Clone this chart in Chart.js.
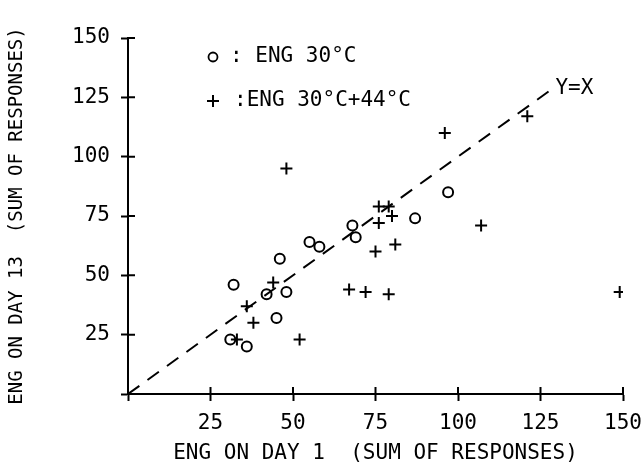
<!DOCTYPE html>
<html>
<head>
<meta charset="utf-8">
<script src="https://cdn.jsdelivr.net/npm/chart.js@4.4.0/dist/chart.umd.min.js"></script>
<style>
  html, body { margin: 0; padding: 0; background: #fff; }
</style>
</head>
<body>
<canvas id="eng-chart" width="644" height="468"></canvas>
<script>
// ENG 30°C (circles)
const circleX = [32, 31, 36, 42, 46, 48, 45, 55, 58, 68, 69, 87, 97]
const circleY = [46, 23, 20, 42, 57, 43, 32, 64, 62, 71, 66, 74, 85]

// ENG 30°C+44°C (crosses)
const plusX = [44, 36, 38, 33, 52, 67, 72, 48, 96, 121, 76, 79, 76, 80, 107, 75, 81, 79, 149]
const plusY = [47, 37, 30, 23, 23, 44, 43, 95, 110, 117, 79, 79, 72, 75, 71, 60, 63, 42, 43]

// Y=X reference line
const diagX = [0, 128]
const diagY = [0, 128]

const axisTicks = [0, 25, 50, 75, 100, 125, 150]
const legendLabels = [': ENG 30°C', ':ENG 30°C+44°C']
const xTitle = 'ENG ON DAY 1  (SUM OF RESPONSES)'
const yTitle = 'ENG ON DAY 13  (SUM OF RESPONSES)'

const FONT = "'DejaVu Sans Mono', monospace"
const ctx = document.getElementById('eng-chart')

function toPoints(xs, ys) {
  return xs.map((x, i) => ({ x: x, y: ys[i] }))
}

// inner half of the crossing tick marks, legend and the Y=X label
const extras = {
  id: 'extras',
  afterDraw(chart) {
    const c = chart.ctx
    const xs = chart.scales.x
    const ys = chart.scales.y
    const area = chart.chartArea
    c.save()
    c.strokeStyle = '#000'
    c.lineWidth = 2
    c.beginPath()
    xs.ticks.forEach(t => {
      const px = xs.getPixelForValue(t.value)
      c.moveTo(px, ys.bottom)
      c.lineTo(px, ys.bottom - 7)
    })
    ys.ticks.forEach(t => {
      const py = ys.getPixelForValue(t.value)
      c.moveTo(xs.left, py)
      c.lineTo(xs.left + 7, py)
    })
    c.stroke()

    c.fillStyle = '#000'
    c.font = '21px ' + FONT
    c.textBaseline = 'middle'
    c.textAlign = 'left'

    // legend
    const lx = area.left + 85
    const ly1 = area.top + 19
    const ly2 = area.top + 63
    c.lineWidth = 1.8
    c.beginPath()
    c.arc(lx, ly1, 4.5, 0, Math.PI * 2)
    c.stroke()
    c.lineWidth = 2
    c.beginPath()
    c.moveTo(lx - 6, ly2); c.lineTo(lx + 6, ly2)
    c.moveTo(lx, ly2 - 6); c.lineTo(lx, ly2 + 6)
    c.stroke()
    c.fillText(legendLabels[0], lx + 17, ly1)
    c.fillText(legendLabels[1], lx + 21, ly2)

    // Y=X label at end of the dashed line
    const ex = xs.getPixelForValue(diagX[diagX.length - 1])
    const ey = ys.getPixelForValue(diagY[diagY.length - 1])
    c.fillText('Y=X', ex + 5, ey - 2)
    c.restore()
  }
}

const axisCommon = {
  type: 'linear',
  min: 0,
  max: 150,
  afterBuildTicks: scale => {
    scale.ticks = axisTicks.map(v => ({ value: v }))
  },
  border: { display: true, color: '#000', width: 2 },
  grid: {
    drawOnChartArea: false,
    drawTicks: true,
    tickLength: 7,
    tickWidth: 2,
    color: '#000'
  }
}

new Chart(ctx, {
  type: 'scatter',
  data: {
    datasets: [
      {
        label: 'ENG 30°C',
        data: toPoints(circleX, circleY),
        pointStyle: 'circle',
        pointRadius: 5,
        borderWidth: 2,
        borderColor: '#000',
        backgroundColor: 'rgba(0,0,0,0)'
      },
      {
        label: 'ENG 30°C+44°C',
        data: toPoints(plusX, plusY),
        pointStyle: 'cross',
        pointRadius: 6,
        borderWidth: 2,
        borderColor: '#000'
      },
      {
        label: 'Y=X',
        type: 'line',
        data: toPoints(diagX, diagY),
        borderColor: '#000',
        borderWidth: 2,
        borderDash: [14, 10],
        pointRadius: 0,
        fill: false
      }
    ]
  },
  options: {
    responsive: false,
    animation: false,
    devicePixelRatio: 1,
    layout: { padding: { top: 38, right: 21, left: 0, bottom: 0 } },
    plugins: {
      legend: { display: false },
      tooltip: { enabled: false }
    },
    scales: {
      x: Object.assign({}, axisCommon, {
        afterFit: scale => {
          scale.height = 74
          scale.paddingRight = 0
        },
        ticks: {
          color: '#000',
          font: { family: FONT, size: 21 },
          padding: 10,
          maxRotation: 0,
          callback: v => (v === 0 ? '' : v)
        },
        title: {
          display: true,
          text: xTitle,
          color: '#000',
          font: { family: FONT, size: 21 },
          padding: { top: 0, bottom: 2 }
        }
      }),
      y: Object.assign({}, axisCommon, {
        afterFit: scale => { scale.width = 128 },
        ticks: {
          color: '#000',
          font: { family: FONT, size: 21 },
          padding: 11,
          callback: v => (v === 0 ? '' : v)
        },
        title: {
          display: true,
          text: yTitle,
          color: '#000',
          font: { family: FONT, size: 19 },
          padding: { top: 6, bottom: 4 }
        }
      })
    }
  },
  plugins: [extras]
})
</script>
</body>
</html>
